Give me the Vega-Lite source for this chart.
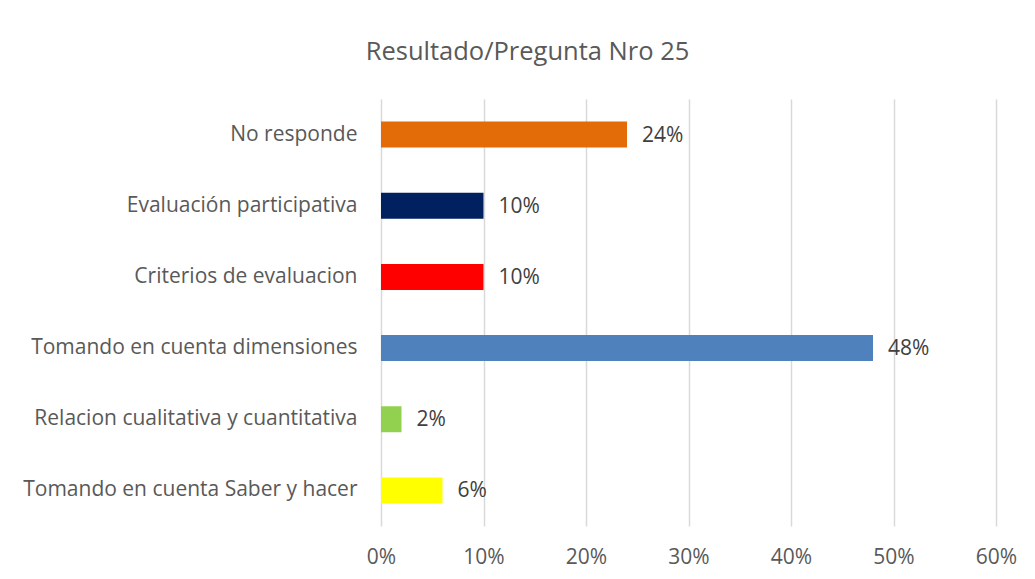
{
  "$schema": "https://vega.github.io/schema/vega-lite/v6.json",
  "autosize": {"type": "none"},
  "width": 615,
  "height": 427,
  "padding": {"left": 381, "top": 99, "right": 39, "bottom": 53},
  "background": "white",
  "title": {
    "text": "Resultado/Pregunta Nro 25",
    "font": "Open Sans",
    "fontSize": 25.5,
    "fontWeight": "normal",
    "color": "#595959",
    "anchor": "middle",
    "dx": -161,
    "offset": 34
  },
  "data": {
    "values": [
      {"categoria": "No responde", "valor": 0.24, "color": "#E36C09"},
      {"categoria": "Evaluación participativa", "valor": 0.10, "color": "#002060"},
      {"categoria": "Criterios de evaluacion", "valor": 0.10, "color": "#FF0000"},
      {"categoria": "Tomando en cuenta dimensiones", "valor": 0.48, "color": "#4F81BD"},
      {"categoria": "Relacion cualitativa y cuantitativa", "valor": 0.02, "color": "#92D050"},
      {"categoria": "Tomando en cuenta Saber y hacer", "valor": 0.06, "color": "#FFFF00"}
    ]
  },
  "encoding": {
    "y": {
      "field": "categoria",
      "type": "nominal",
      "sort": null,
      "scale": {"paddingInner": 0.635, "paddingOuter": 0.3175},
      "axis": {
        "title": null,
        "domain": false,
        "ticks": false,
        "labelFont": "Open Sans",
        "labelFontSize": 21,
        "labelColor": "#595959",
        "labelPadding": 24,
        "labelLimit": 400
      }
    },
    "x": {
      "field": "valor",
      "type": "quantitative",
      "scale": {"domain": [0, 0.6], "nice": false},
      "axis": {
        "title": null,
        "format": ".0%",
        "values": [0, 0.1, 0.2, 0.3, 0.4, 0.5, 0.6],
        "labelOverlap": false,
        "labelFlush": false,
        "domain": false,
        "ticks": false,
        "grid": true,
        "gridColor": "#D9D9D9",
        "gridWidth": 1.5,
        "labelFont": "Open Sans",
        "labelFontSize": 21,
        "labelColor": "#595959",
        "labelPadding": 20
      }
    }
  },
  "layer": [
    {
      "mark": {"type": "bar"},
      "encoding": {
        "color": {"field": "color", "type": "nominal", "scale": null}
      }
    },
    {
      "mark": {
        "type": "text",
        "align": "left",
        "baseline": "middle",
        "dx": 15,
        "dy": 1,
        "font": "Open Sans",
        "fontSize": 21,
        "color": "#404040"
      },
      "encoding": {
        "text": {"field": "valor", "type": "quantitative", "format": ".0%"}
      }
    }
  ],
  "config": {
    "view": {"stroke": null}
  }
}
